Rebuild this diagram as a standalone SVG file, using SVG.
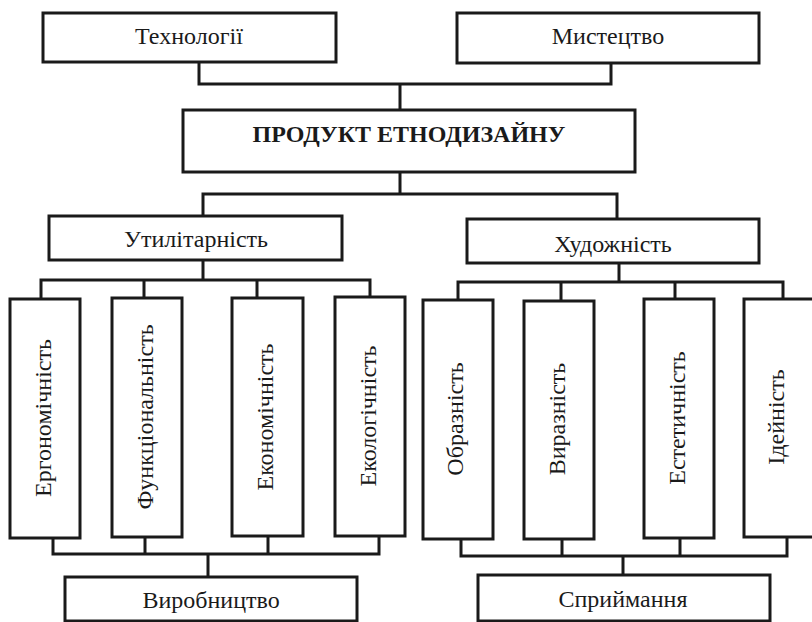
<svg xmlns="http://www.w3.org/2000/svg" width="812" height="622" viewBox="0 0 812 622">
<style>
  .box { fill: #ffffff; stroke: #1a1a1a; stroke-width: 3; }
  .conn { fill: none; stroke: #1a1a1a; stroke-width: 3; stroke-linecap: square; stroke-linejoin: miter; }
  .t { font-family: "Liberation Serif", "Times New Roman", serif; font-size: 24px; fill: #1a1a1a; text-anchor: middle; }
  .b { font-weight: bold; }
</style>
<rect width="812" height="622" fill="#ffffff"/>
<g id="connectors">
  <path class="conn" d="M199,62 V84 H611 V63 M400,84 V110"/>
  <path class="conn" d="M400,172 V194 M203,216 V194 H617 V219"/>
  <path class="conn" d="M203,260 V280 M41,298 V280 H370 V297 M144,280 V298 M257,280 V298"/>
  <path class="conn" d="M619,263 V282 M458,300 V282 H783 V299 M561,282 V301 M675,282 V299"/>
  <path class="conn" d="M53,538 V554 H379 V536 M145,537 V554 M268,536 V554 M208,554 V577"/>
  <path class="conn" d="M461,539 V556 H787 V537 M562,539 V556 M680,538 V556 M623,556 V575"/>
</g>
<g id="n-tech"><rect class="box" x="43" y="13" width="293" height="49"/><text class="t" x="189" y="44">Технології</text></g>
<g id="n-art"><rect class="box" x="457" y="13" width="302" height="50"/><text class="t" x="608" y="44">Мистецтво</text></g>
<g id="n-product"><rect class="box" x="183" y="110" width="452" height="62"/><text class="t b" x="409" y="142">ПРОДУКТ ЕТНОДИЗАЙНУ</text></g>
<g id="n-util"><rect class="box" x="49" y="216" width="293" height="44"/><text class="t" x="196" y="247">Утилітарність</text></g>
<g id="n-hud"><rect class="box" x="467" y="219" width="292" height="44"/><text class="t" x="613" y="252">Художність</text></g>
<g id="n-erg"><rect class="box" x="10" y="299" width="70" height="239"/><text class="t" transform="translate(51,418) rotate(-90)">Ергономічність</text></g>
<g id="n-func"><rect class="box" x="112" y="298" width="70" height="239"/><text class="t" transform="translate(153,417) rotate(-90)">Функціональність</text></g>
<g id="n-econ"><rect class="box" x="232" y="298" width="71" height="238"/><text class="t" transform="translate(273,417) rotate(-90)">Економічність</text></g>
<g id="n-ecol"><rect class="box" x="335" y="297" width="70" height="239"/><text class="t" transform="translate(376,416) rotate(-90)">Екологічність</text></g>
<g id="n-obr"><rect class="box" x="423" y="300" width="70" height="239"/><text class="t" transform="translate(463,419) rotate(-90)">Образність</text></g>
<g id="n-vyr"><rect class="box" x="524" y="301" width="70" height="238"/><text class="t" transform="translate(565,419) rotate(-90)">Виразність</text></g>
<g id="n-est"><rect class="box" x="644" y="299" width="70" height="239"/><text class="t" transform="translate(685,418) rotate(-90)">Естетичність</text></g>
<g id="n-ide"><rect class="box" x="744" y="299" width="70" height="238"/><text class="t" transform="translate(784,417) rotate(-90)">Ідейність</text></g>
<g id="n-vyrob"><rect class="box" x="65" y="577" width="292" height="44"/><text class="t" x="211" y="608">Виробництво</text></g>
<g id="n-spr"><rect class="box" x="478" y="575" width="292" height="46"/><text class="t" x="623" y="607">Сприймання</text></g>
</svg>
